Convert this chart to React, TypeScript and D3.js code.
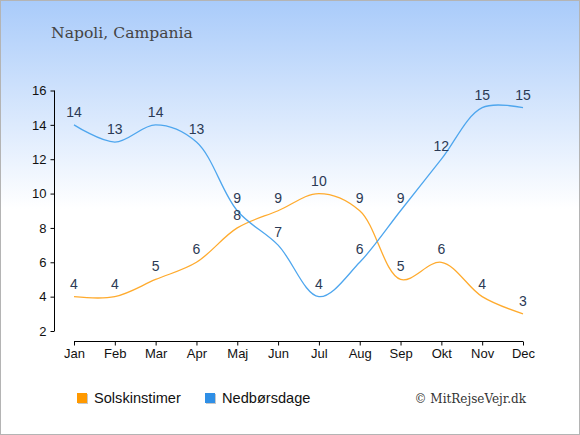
import { useRef, useEffect } from 'react';
import * as d3 from 'd3';

const months = ['Jan', 'Feb', 'Mar', 'Apr', 'Maj', 'Jun', 'Jul', 'Aug', 'Sep', 'Okt', 'Nov', 'Dec'];
const sunHours = [4, 4, 5, 6, 8, 9, 10, 9, 5, 6, 4, 3];
const rainDays = [14, 13, 14, 13, 9, 7, 4, 6, 9, 12, 15, 15];
const yTicks = [2, 4, 6, 8, 10, 12, 14, 16];

export default function App() {
  const svgRef = useRef<SVGSVGElement>(null);

  useEffect(() => {
    if (!svgRef.current) return;
    const svg = d3.select(svgRef.current);
    svg.selectAll('*').remove();

    const width = 580;
    const height = 435;

    // Background
    const defs = svg.append('defs');
    const grad = defs.append('linearGradient').attr('id', 'bg').attr('x1', 0).attr('x2', 0).attr('y1', 0).attr('y2', 1);
    grad.append('stop').attr('offset', '0%').attr('stop-color', '#a9cbfa');
    grad.append('stop').attr('offset', '48%').attr('stop-color', '#ffffff');
    grad.append('stop').attr('offset', '100%').attr('stop-color', '#ffffff');

    svg.append('rect')
      .attr('x', 0.5).attr('y', 0.5)
      .attr('width', width - 1).attr('height', height - 1)
      .attr('fill', 'url(#bg)')
      .attr('stroke', '#b4b4b4');

    svg.append('text')
      .attr('x', 51).attr('y', 38)
      .attr('fill', '#444')
      .style('font-family', '"DejaVu Serif", serif')
      .style('font-size', '15.6px')
      .text('Napoli, Campania');

    const xScale = d3.scalePoint<string>().domain(months).range([74, 523]);
    const yScale = d3.scaleLinear().domain([2, 16]).range([331, 90.5]);

    // Y axis
    const yAxis = svg.append('g')
      .attr('transform', 'translate(54.5,0)')
      .call(d3.axisLeft(yScale).tickValues(yTicks).tickSize(4).tickPadding(4).tickFormat(d3.format('d')));
    yAxis.select('.domain').attr('stroke', '#000').attr('d', `M0,${yScale(16)}V${yScale(2)}`);
    yAxis.selectAll('line').attr('stroke', '#000');
    yAxis.selectAll('text').attr('fill', '#111').style('font-family', 'Arial, "Liberation Sans", sans-serif').style('font-size', '13px');

    // X axis
    const xAxis = svg.append('g')
      .attr('transform', 'translate(0,341.5)')
      .call(d3.axisBottom(xScale).tickSize(4).tickPadding(3));
    xAxis.select('.domain').attr('stroke', '#000').attr('d', `M74,0H523`);
    xAxis.selectAll('line').attr('stroke', '#000');
    xAxis.selectAll('text').attr('fill', '#111').style('font-family', 'Arial, "Liberation Sans", sans-serif').style('font-size', '13px');

    const series = [
      { values: sunHours, color: '#ffab2e' },
      { values: rainDays, color: '#4ea6ee' },
    ];

    const line = d3.line<number>()
      .x((_, i) => xScale(months[i]) as number)
      .y((d) => yScale(d))
      .curve(d3.curveCatmullRom.alpha(0.5));

    series.forEach((s) => {
      svg.append('path')
        .datum(s.values)
        .attr('d', line)
        .attr('fill', 'none')
        .attr('stroke', s.color)
        .attr('stroke-width', 1.3);
    });

    series.forEach((s) => {
      svg.append('g')
        .selectAll('text')
        .data(s.values)
        .join('text')
        .attr('x', (_, i) => xScale(months[i]) as number)
        .attr('y', (d) => yScale(d) - 8)
        .attr('text-anchor', 'middle')
        .attr('fill', '#2b3a55')
        .style('font-family', 'Arial, "Liberation Sans", sans-serif')
        .style('font-size', '14px')
        .text((d) => d);
    });

    // Legend
    const legend = [
      { label: 'Solskinstimer', color: '#ff9900', x: 77 },
      { label: 'Nedbørsdage', color: '#2f8fe6', x: 205 },
    ];
    legend.forEach((l) => {
      svg.append('rect')
        .attr('x', l.x + 1).attr('y', 394)
        .attr('width', 10).attr('height', 10)
        .attr('fill', '#c8c8c8');
      svg.append('rect')
        .attr('x', l.x).attr('y', 393)
        .attr('width', 10).attr('height', 10)
        .attr('fill', l.color);
      svg.append('text')
        .attr('x', l.x + 17).attr('y', 403)
        .attr('fill', '#111')
        .style('font-family', 'Arial, "Liberation Sans", sans-serif')
        .style('font-size', '14.6px')
        .text(l.label);
    });

    svg.append('text')
      .attr('x', 526).attr('y', 403)
      .attr('text-anchor', 'end')
      .attr('fill', '#333')
      .style('font-family', '"DejaVu Serif", serif')
      .style('font-size', '12px')
      .text('© MitRejseVejr.dk');
  }, []);

  return (
    <svg
      ref={svgRef}
      width={580}
      height={435}
      style={{ position: 'absolute', left: 0, top: 0, display: 'block' }}
    />
  );
}
